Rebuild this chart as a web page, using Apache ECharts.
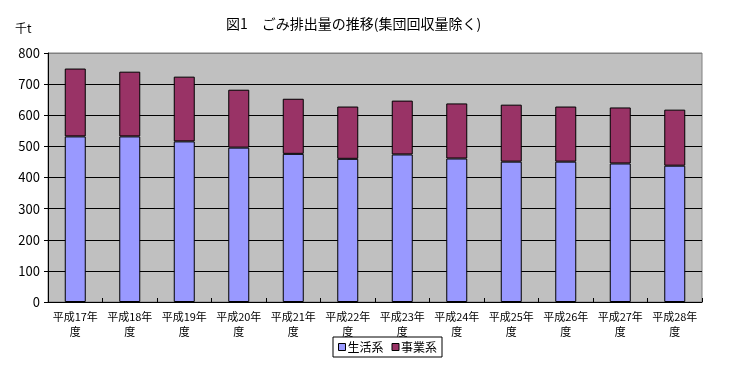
<!DOCTYPE html>
<html><head><meta charset="utf-8">
<script src="https://cdn.jsdelivr.net/npm/echarts@6/dist/echarts.min.js"></script>
<style>html,body{margin:0;padding:0;background:#fff}#c{width:734px;height:375px}</style>
</head><body><div id="c"></div>
<script>
const categories = ['平成17年\n度','平成18年\n度','平成19年\n度','平成20年\n度','平成21年\n度','平成22年\n度','平成23年\n度','平成24年\n度','平成25年\n度','平成26年\n度','平成27年\n度','平成28年\n度'];
const household = [532, 532, 516, 496, 476, 460, 474, 461, 451, 451, 445, 438];
const business = [218, 208, 208, 186, 177, 168, 173, 177, 183, 177, 180, 180];
const yTicks = [0, 100, 200, 300, 400, 500, 600, 700, 800];
const seriesNames = ['生活系', '事業系'];
const titleText = '図1　ごみ排出量の推移(集団回収量除く)';
const unitText = '千t';

const FONT = '"Noto Sans CJK JP", sans-serif';
const chart = echarts.init(document.getElementById('c'), null, {renderer: 'canvas'});
const gridLineColors = yTicks.map((v, i) => i === yTicks.length - 1 ? '#808080' : '#000000');
chart.setOption({
  animation: false,
  title: [
    {text: titleText, left: 221, top: 12, textStyle: {fontFamily: FONT, fontSize: 14, fontWeight: 'normal', color: '#000'}},
    {text: unitText, left: 10, top: 17, textStyle: {fontFamily: FONT, fontSize: 12, fontWeight: 'normal', color: '#000'}}
  ],
  legend: {
    data: seriesNames,
    left: 333, top: 337,
    padding: [4, 5, 4, 5],
    itemGap: 8,
    itemWidth: 7, itemHeight: 7,
    borderColor: '#000', borderWidth: 1,
    backgroundColor: '#fff',
    icon: 'rect',
    textStyle: {fontFamily: FONT, fontSize: 12, color: '#000', padding: [0, 0, 0, -3]},
    itemStyle: {borderColor: '#000', borderWidth: 1}
  },
  grid: {
    left: 48, right: 32, top: 53, bottom: 73,
    show: true, backgroundColor: '#c0c0c0', borderColor: '#808080', borderWidth: 1,
    containLabel: false
  },
  xAxis: {
    type: 'category', data: categories,
    axisLine: {lineStyle: {color: '#000', width: 1}},
    axisTick: {show: true, inside: true, length: 4, lineStyle: {color: '#000'}},
    axisLabel: {interval: 0, fontFamily: FONT, fontSize: 11, color: '#000', lineHeight: 15, margin: 7}
  },
  yAxis: {
    type: 'value', min: 0, max: 800, interval: 100,
    axisLine: {show: true, lineStyle: {color: '#000', width: 1}},
    axisTick: {show: true, inside: false, length: 4, lineStyle: {color: '#000'}},
    axisLabel: {fontFamily: FONT, fontSize: 13, color: '#000', margin: 8},
    splitLine: {show: true, lineStyle: {color: gridLineColors, width: 1}}
  },
  series: [
    {name: seriesNames[0], type: 'bar', stack: 'total', data: household, barWidth: 21,
     itemStyle: {color: '#9999ff', borderColor: '#000', borderWidth: 1}},
    {name: seriesNames[1], type: 'bar', stack: 'total', data: business, barWidth: 21,
     itemStyle: {color: '#993366', borderColor: '#000', borderWidth: 1}}
  ]
});
</script></body></html>
